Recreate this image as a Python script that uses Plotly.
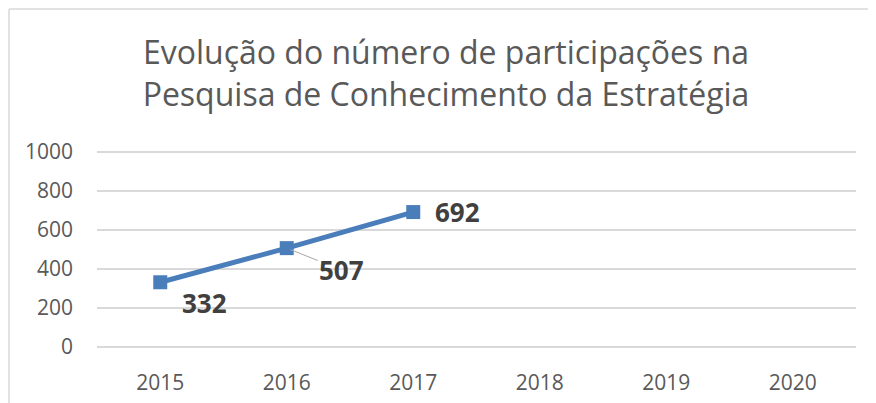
import plotly.graph_objects as go

categories = ["2015", "2016", "2017", "2018", "2019", "2020"]
years_with_data = ["2015", "2016", "2017"]
participations = [332, 507, 692]
y_tick_values = [0, 200, 400, 600, 800, 1000]
y_tick_labels = ["0", "200", "400", "600", "800", "1000"]
title_text = "Evolução do número de participações na<br>Pesquisa de Conhecimento da Estratégia"

BLUE = "#4A7EBB"
FONT = "Open Sans"
OFF = 8  # browser default body margin

fig = go.Figure()
fig.add_trace(go.Scatter(
    x=years_with_data, y=participations,
    mode="lines+markers",
    line=dict(color=BLUE, width=5),
    marker=dict(symbol="square", size=14, color=BLUE),
    hoverinfo="x+y",
    showlegend=False,
))
fig.add_trace(go.Scatter(x=categories, y=[None] * len(categories), showlegend=False, hoverinfo="skip"))

# data labels (offsets in pixels relative to their points)
label_offsets = [(44, 21, False), (55, 22, True), (44, 0, False)]
for xv, yv, (dx, dy, arrow) in zip(years_with_data, participations, label_offsets):
    xi = categories.index(xv)
    if arrow:
        fig.add_annotation(x=xi, y=yv, xref="x", yref="y", text=f"<b>{yv}</b>",
                           showarrow=True, arrowhead=0, arrowwidth=1, arrowcolor="#A6A6A6",
                           ax=dx, ay=dy, standoff=4,
                           font=dict(family=FONT, size=26, color="#404040"))
    else:
        fig.add_annotation(x=xi, y=yv, xref="x", yref="y", text=f"<b>{yv}</b>",
                           showarrow=False, xshift=dx, yshift=-dy,
                           font=dict(family=FONT, size=26, color="#404040"))

W, H = 876 - OFF, 403 - OFF
PAD = 2  # extra px so edge gridlines (0 and 1000) are not clipped
L, T, R, B = 97 - OFF, 152 - OFF - PAD, 20, 56 - PAD
PW, PH = W - L - R, H - T - B
unit = 1000 / 195  # value per pixel
fig.update_layout(
    width=W, height=H,
    margin=dict(l=L, r=R, t=T, b=B, autoexpand=False),
    paper_bgcolor="white", plot_bgcolor="white",
    title=dict(text=title_text, x=(446 - OFF) / W, xanchor="center", xref="container",
               y=1 - (64 - OFF) / H, yanchor="middle", yref="container",
               font=dict(family=FONT, size=32, color="#595959")),
    xaxis=dict(type="category", categoryorder="array", categoryarray=categories,
               range=[-0.5, len(categories) - 0.5], automargin=False,
               showgrid=False, showline=False, zeroline=False, ticks="",
               tickfont=dict(family=FONT, size=21, color="#595959"), ticklabelstandoff=17 + PAD),
    yaxis=dict(range=[-PAD * unit, 1000 + PAD * unit], tickvals=y_tick_values, ticktext=y_tick_labels,
               automargin=False,
               showgrid=True, gridcolor="#D9D9D9", gridwidth=1.5,
               showline=False, zeroline=False, ticks="",
               tickfont=dict(family=FONT, size=21, color="#595959"), ticklabelstandoff=23),
    shapes=[
        dict(type="line", xref="paper", yref="paper", x0=(1 - L) / PW, x1=(1 - L) / PW,
             y0=-B / PH, y1=1 + (T - 1) / PH, line=dict(color="#D9D9D9", width=1.5)),
        dict(type="line", xref="paper", yref="paper", x0=(1 - L) / PW, x1=1 + R / PW,
             y0=1 + (T - 1) / PH, y1=1 + (T - 1) / PH, line=dict(color="#D9D9D9", width=1.5)),
    ],
)

fig.write_html("out.html")
